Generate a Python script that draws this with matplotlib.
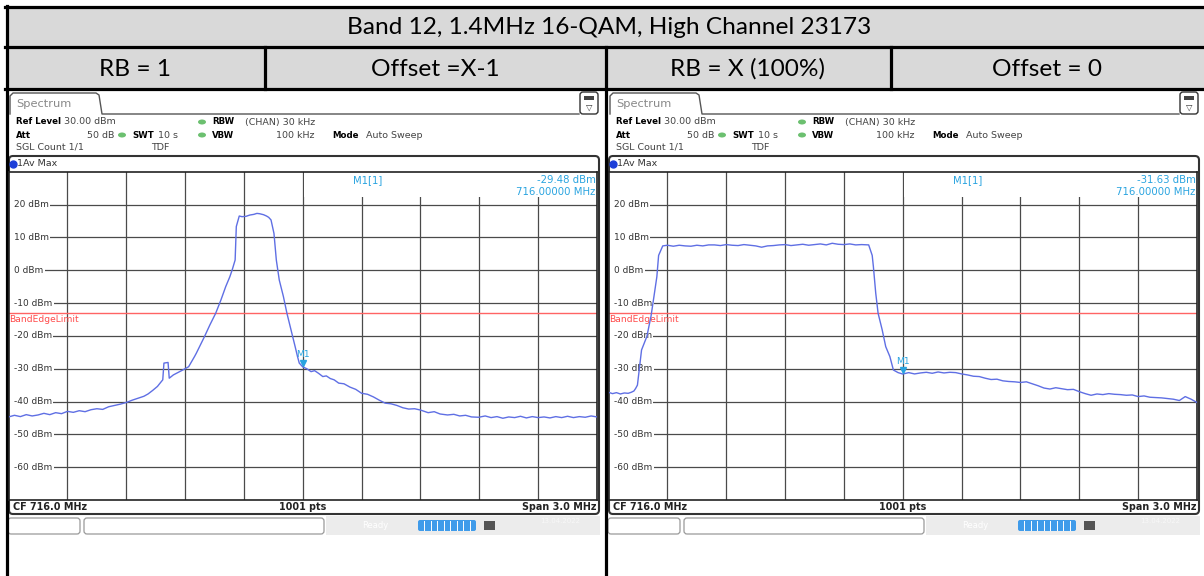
import matplotlib.pyplot as plt
from matplotlib.patches import Rectangle, FancyBboxPatch, Ellipse

# figure size in pixels (dpi 100)
W, H = 1204, 576

# table text
title = "Band 12, 1.4MHz 16-QAM, High Channel 23173"
sub_labels = ["RB = 1", "Offset =X-1", "RB = X (100%)", "Offset = 0"]

# analyzer settings (same for both screenshots)
cf_mhz = 716.0
span_mhz = 3.0
ref_dbm = 30.0
y_ticks = [20, 10, 0, -10, -20, -30, -40, -50, -60]
limit_dbm = -13.0

# trace 1: RB = 1, offset X-1
left_freq = [714.50, 714.53, 714.56, 714.59, 714.62, 714.65, 714.68, 714.71, 714.74, 714.77,
             714.80, 714.83, 714.86, 714.89, 714.92, 714.95, 714.98, 715.01, 715.04, 715.07,
             715.10, 715.13, 715.16, 715.19, 715.211, 715.235, 715.259, 715.275, 715.286,
             715.292, 715.313, 715.319, 715.340, 715.388, 715.418, 715.448, 715.457,
             715.499, 715.526, 715.556, 715.583, 715.607, 715.628, 715.640, 715.655,
             715.661, 715.676, 715.69, 715.71, 715.73, 715.75, 715.766, 715.78, 715.80,
             715.815, 715.826, 715.838, 715.853, 715.865, 715.880, 715.901, 715.919,
             715.940, 715.961, 715.973, 715.982,
             716.00, 716.02, 716.042, 716.06, 716.08, 716.102, 716.12, 716.14, 716.16,
             716.183, 716.21, 716.24, 716.27, 716.30, 716.33, 716.36, 716.39, 716.42,
             716.45, 716.48, 716.51, 716.54, 716.57, 716.60, 716.639, 716.67, 716.70,
             716.738, 716.77, 716.80, 716.83, 716.86, 716.897, 716.93, 716.96, 716.99,
             717.02, 717.05, 717.08, 717.11, 717.14, 717.17, 717.20, 717.23, 717.26,
             717.29, 717.32, 717.35, 717.38, 717.41, 717.44, 717.47, 717.50]
left_dbm = [-44.7, -44.2, -44.6, -44.0, -44.4, -44.1, -43.6, -44.0, -43.4, -43.7,
            -43.0, -43.3, -42.8, -43.1, -42.5, -42.2, -42.4, -41.6, -41.2, -40.8,
            -40.3, -39.6, -39.0, -38.4, -37.7, -36.6, -35.4, -34.2, -33.4,
            -28.3, -28.1, -32.9, -31.9, -30.4, -29.4, -26.3, -25.3,
            -20.2, -16.7, -13.1, -9.0, -5.0, -2.0, 0.1, 3.1,
            13.3, 16.5, 16.3, 16.4, 16.8, 17.0, 17.3, 17.2, 16.9,
            16.5, 16.1, 15.3, 11.2, 3.1, -3.0, -8.0, -13.1,
            -18.2, -23.3, -26.3, -28.3,
            -29.48, -30.0, -30.9, -30.6, -31.4, -32.4, -32.2, -33.0, -33.4,
            -34.4, -34.6, -35.6, -36.3, -37.5, -37.8, -38.6, -39.6, -40.5,
            -40.7, -41.2, -41.9, -42.3, -42.2, -42.6, -43.4, -43.1, -43.8,
            -44.1, -43.9, -44.4, -44.2, -44.7, -44.8, -44.4, -44.9, -44.6,
            -45.1, -44.7, -44.9, -44.5, -45.0, -44.6, -44.9, -44.7, -45.0,
            -44.6, -44.9, -44.5, -44.9, -44.6, -44.8, -44.4, -44.7]

# trace 2: RB = X (100%), offset 0
right_freq = [714.50, 714.52, 714.54, 714.56, 714.58, 714.60, 714.615, 714.629, 714.638,
              714.647, 714.656, 714.668, 714.695, 714.716, 714.731, 714.746, 714.755,
              714.776, 714.80, 714.83, 714.86, 714.89, 714.92, 714.95, 714.98, 715.01,
              715.04, 715.07, 715.10, 715.13, 715.16, 715.19, 715.22, 715.25, 715.28,
              715.31, 715.34, 715.37, 715.40, 715.43, 715.46, 715.49, 715.52, 715.55,
              715.58, 715.61, 715.64, 715.67, 715.70, 715.73, 715.76, 715.79, 715.826,
              715.844, 715.850, 715.862, 715.874, 715.895, 715.913, 715.934, 715.952,
              715.976,
              716.00, 716.03, 716.06, 716.09, 716.12, 716.15, 716.18, 716.21, 716.24,
              716.27, 716.30, 716.33, 716.36, 716.39, 716.42, 716.45, 716.48, 716.51,
              716.54, 716.57, 716.60, 716.63, 716.66, 716.69, 716.72, 716.75, 716.78,
              716.81, 716.84, 716.87, 716.90, 716.93, 716.96, 716.99, 717.02, 717.05,
              717.08, 717.11, 717.14, 717.17, 717.20, 717.23, 717.26, 717.29, 717.32,
              717.35, 717.38, 717.41, 717.44, 717.47, 717.50]
right_dbm = [-37.2, -37.6, -37.3, -37.7, -37.4, -37.5, -37.2, -36.8, -36.0,
             -35.0, -30.4, -24.3, -20.2, -14.1, -8.1, -2.0, 4.5,
             7.4, 7.6, 7.3, 7.6, 7.4, 7.3, 7.6, 7.4, 7.7,
             7.7, 7.5, 7.8, 7.6, 7.5, 7.8, 7.6, 7.4, 7.0,
             7.4, 7.5, 7.7, 7.8, 7.5, 7.7, 7.9, 7.6, 7.8,
             8.0, 7.7, 8.2, 7.9, 7.8, 8.0, 7.7, 7.8, 7.7,
             4.5, 1.1, -7.0, -13.1, -18.2, -23.3, -26.3, -30.4,
             -31.2,
             -31.63, -31.2, -31.6, -31.3, -31.1, -31.4, -31.0, -31.3, -31.1,
             -31.2, -31.6, -31.9, -32.3, -32.4, -32.9, -33.3, -33.2, -33.7,
             -33.9, -34.0, -34.2, -34.0, -34.6, -35.2, -35.9, -36.2, -35.8,
             -36.1, -36.4, -36.3, -37.0, -37.6, -38.1, -37.7, -37.9, -37.6,
             -37.8, -37.9, -38.1, -38.0, -38.5, -38.3, -38.7, -38.8, -38.9,
             -39.1, -39.3, -39.7, -38.5, -39.3, -40.3]

markers = [-29.48, -31.63]

TRACE = "#5f6fe4"
MARK = "#2aa4e0"
GRID = "#4a4a4a"
INSTR = "DejaVu Sans"

fig = plt.figure(figsize=(W / 100, H / 100), dpi=100)
bg = fig.add_axes([0, 0, 1, 1])
bg.set_xlim(0, W)
bg.set_ylim(H, 0)
bg.axis("off")

# --- the table around the screenshots ---
bg.add_patch(Rectangle((8, 8), W - 8, 38, fc="#d9d9d9", ec="none"))
bg.add_patch(Rectangle((8, 48), W - 8, 40, fc="#d9d9d9", ec="none"))
tfont = dict(family="Lato", fontsize=17.6, color="black", va="center", ha="center")
bg.text(609, 28, title, **tfont)
for lab, xc in zip(sub_labels, [135, 435, 748, 1047]):
    bg.text(xc, 69, lab, **tfont)

lw_tab = 2.3
bg.plot([5, W], [6.5, 6.5], color="black", lw=lw_tab)
bg.plot([5, W], [47, 47], color="black", lw=lw_tab)
bg.plot([5, W], [89, 89], color="black", lw=lw_tab)
bg.plot([6.5, 6.5], [5.5, H], color="black", lw=lw_tab)
bg.plot([606, 606], [47, H], color="black", lw=lw_tab)
for xs in [265, 891]:
    bg.plot([xs, xs], [47, 89], color="black", lw=lw_tab)


def panel(ox, freq, dbm, mval):
    txt = dict(family=INSTR, fontsize=6.8, va="center")
    btxt = dict(family=INSTR, fontsize=6.2, va="center", weight="bold")
    # Spectrum tab
    bg.plot([ox + 10, ox + 10, ox + 13, ox + 96, ox + 99, ox + 102, ox + 579],
            [114, 96, 93, 93, 95, 114, 114], color="#555555", lw=1)
    bg.text(ox + 16, 104, "Spectrum", color="#888888", family=INSTR, fontsize=8.2, va="center")
    bg.add_patch(FancyBboxPatch((ox + 580, 92), 18, 22, boxstyle="round,pad=0,rounding_size=3",
                                fc="white", ec="#333333", lw=1))
    bg.add_patch(Rectangle((ox + 584, 96), 10, 4, fc="#444444", ec="none"))
    bg.text(ox + 589, 107, "\u25bd", family=INSTR, fontsize=6, ha="center", va="center", color="#333333")

    # settings lines
    bg.text(ox + 16, 122, "Ref Level", **btxt)
    bg.text(ox + 64, 122, "30.00 dBm", color="#444444", **txt)
    bg.text(ox + 212, 122, "RBW", **btxt)
    bg.text(ox + 315, 122, "(CHAN) 30 kHz", color="#444444", ha="right", **txt)
    bg.text(ox + 16, 135, "Att", **btxt)
    bg.text(ox + 114, 135, "50 dB", color="#444444", ha="right", **txt)
    bg.text(ox + 132, 135, "SWT", **btxt)
    bg.text(ox + 158, 135, "10 s", color="#444444", **txt)
    bg.text(ox + 212, 135, "VBW", **btxt)
    bg.text(ox + 315, 135, "100 kHz", color="#444444", ha="right", **txt)
    bg.text(ox + 332, 135, "Mode", **btxt)
    bg.text(ox + 366, 135, "Auto Sweep", color="#444444", **txt)
    bg.text(ox + 16, 147.5, "SGL Count 1/1", color="#444444", **txt)
    bg.text(ox + 151, 147.5, "TDF", color="#444444", **txt)
    for dx, dy in [(202, 122), (122, 135), (202, 135)]:
        bg.add_patch(Ellipse((ox + dx, dy), 8, 5, fc="#6cc070", ec="none"))

    # window frame, trace label row and bottom row
    bg.add_patch(FancyBboxPatch((ox + 9, 156), 590, 358, boxstyle="round,pad=0,rounding_size=4",
                                fc="white", ec="#333333", lw=1.5))
    bg.plot([ox + 12.5], [164], "o", ms=5, color="#1d3fd8")
    bg.text(ox + 17, 164, "1Av Max", color="#333333", **txt)
    bot = dict(family=INSTR, fontsize=6.9, weight="bold", va="center", color="#222222")
    bg.text(ox + 13, 507, "CF %.1f MHz" % cf_mhz, **bot)
    bg.text(ox + 303, 507, "1001 pts", ha="center", **bot)
    bg.text(ox + 596, 507, "Span %.1f MHz" % span_mhz, ha="right", **bot)

    # status bar below the window
    for x, w in [(8, 72), (84, 240)]:
        bg.add_patch(FancyBboxPatch((ox + x, 518), w, 16, boxstyle="round,pad=0,rounding_size=3",
                                    fc="white", ec="#9a9a9a", lw=0.9))
    bg.add_patch(Rectangle((ox + 326, 516), 274, 19, fc="#ececec", ec="none"))
    bg.text(ox + 362, 526, "Ready", color="white", family=INSTR, fontsize=6, va="center")
    bg.add_patch(FancyBboxPatch((ox + 418, 520), 58, 11, boxstyle="round,pad=0,rounding_size=2",
                                fc="#3f9bea", ec="none"))
    for k in range(1, 9):
        bg.plot([ox + 418 + k * 6.45] * 2, [521, 530], color="white", lw=0.7)
    bg.add_patch(Rectangle((ox + 484, 521), 11, 9, fc="#555555", ec="none"))
    bg.text(ox + 540, 521, "13.04.2022", color="#f8f8f8", family=INSTR, fontsize=5, va="center")

    # the measurement grid
    ax = fig.add_axes([(ox + 8.6) / W, 1 - 500 / H, 588.4 / W, 328.3 / H])
    f0, f1 = cf_mhz - span_mhz / 2, cf_mhz + span_mhz / 2
    ax.set_xlim(f0, f1)
    ax.set_ylim(ref_dbm - 100, ref_dbm)
    ax.set_xticks([])
    ax.set_yticks([])
    for s in ax.spines.values():
        s.set_color("#222222")
        s.set_linewidth(1.2)
    div = span_mhz / 10
    for k in range(1, 10):
        ax.axvline(f0 + k * div, color=GRID, lw=0.9, zorder=1)
    # marker readout hides the upper right grid
    ax.add_patch(Rectangle((cf_mhz + 0.006, 22.2), span_mhz / 2 - 0.012, 7.7, fc="white",
                           ec="none", zorder=1.5))
    for t in y_ticks:
        ax.axhline(t, color=GRID, lw=0.9, zorder=1)
        ax.add_patch(Rectangle((f0, t - 1.3), 0.03, 2.6, fc="white", ec="none", zorder=1.5))
        ax.text(f0 + 0.025, t, "%d dBm" % t, family=INSTR, fontsize=6.5, color="#333333",
                va="center", zorder=2,
                bbox=dict(boxstyle="square,pad=0.2", fc="white", ec="none"))
    ax.axhline(limit_dbm, color="#ff6464", lw=1, zorder=2)
    ax.text(f0 + 0.005, limit_dbm - 2.1, "BandEdgeLimit", family=INSTR, fontsize=6.6,
            color="#ff4a4a", va="center", zorder=2)
    ax.plot(freq, dbm, color=TRACE, lw=1, zorder=3)
    ax.plot([cf_mhz], [mval + 1.1], "v", ms=4.5, color=MARK, zorder=4)
    ax.text(cf_mhz, mval + 3.8, "M1", family=INSTR, fontsize=6.6, color=MARK,
            ha="center", va="center", zorder=4)
    ax.text(0.61, 0.975, "M1[1]", transform=ax.transAxes, family=INSTR, fontsize=7.2,
            color=MARK, ha="center", va="center")
    ax.text(0.998, 0.975, "%.2f dBm" % mval, transform=ax.transAxes, family=INSTR,
            fontsize=7.3, color=MARK, ha="right", va="center")
    ax.text(0.998, 0.938, "%.5f MHz" % cf_mhz, transform=ax.transAxes, family=INSTR,
            fontsize=7.3, color=MARK, ha="right", va="center")


panel(0, left_freq, left_dbm, markers[0])
panel(600, right_freq, right_dbm, markers[1])

fig.savefig("out.png", dpi=100)
